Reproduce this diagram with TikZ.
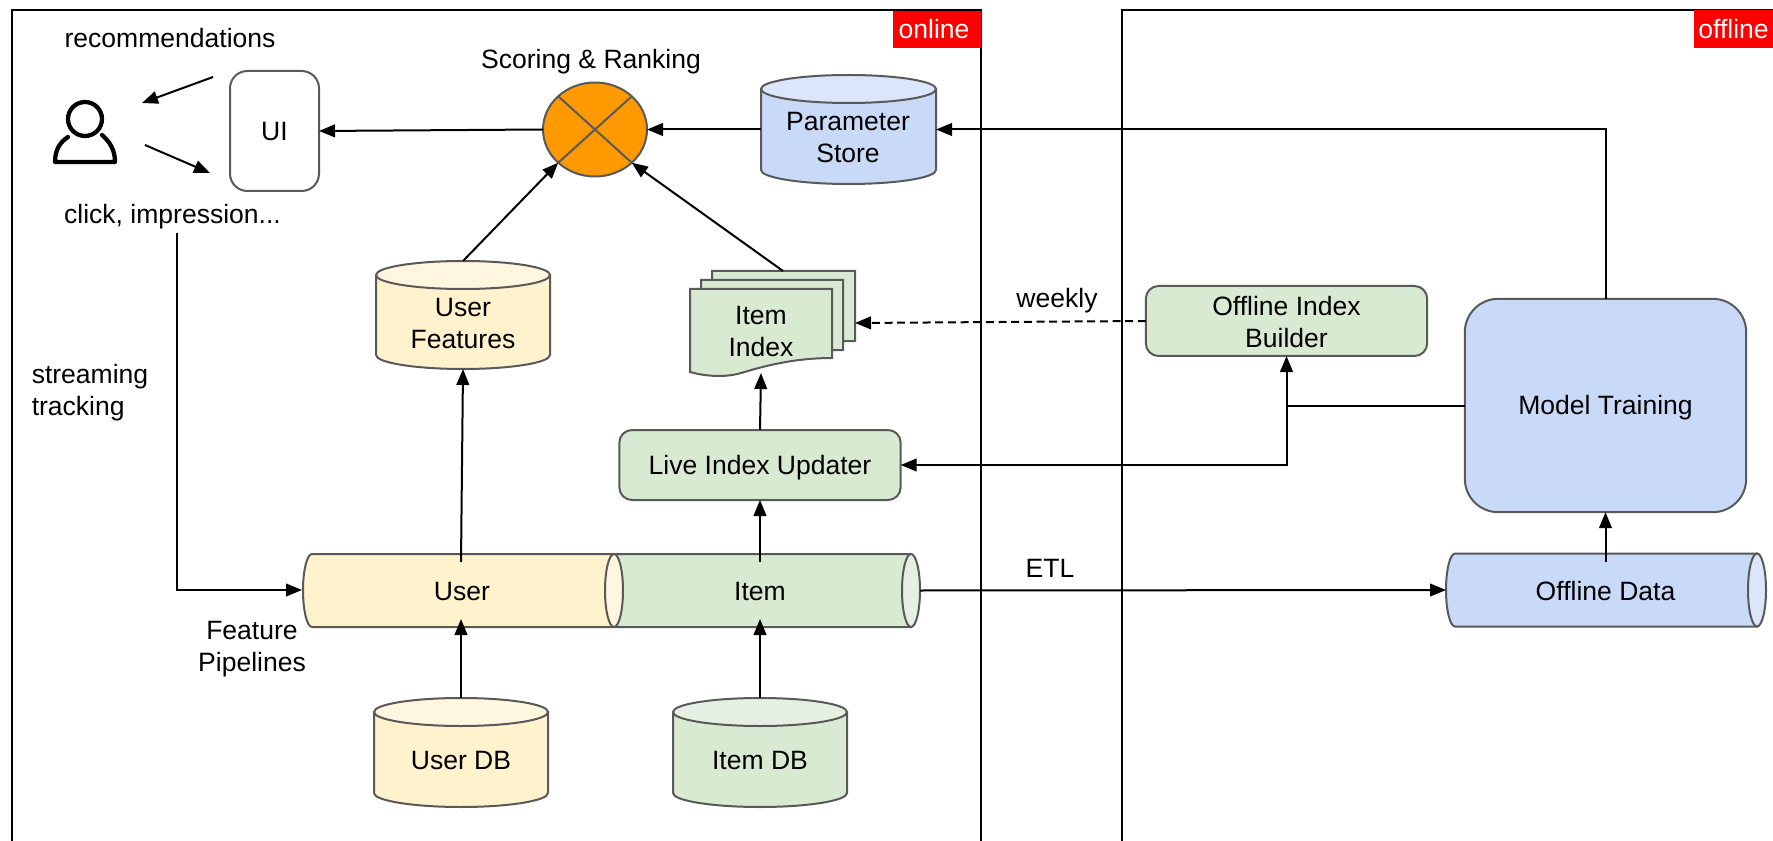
\documentclass[tikz,border=0pt]{standalone}
\usepackage{fontspec}
\setmainfont{Liberation Sans}
\usetikzlibrary{arrows.meta,calc,shapes.geometric}
\definecolor{edgegray}{HTML}{595959}
\definecolor{yel}{HTML}{FFF2CC}
\definecolor{yeltop}{HTML}{FFF6E0}
\definecolor{grn}{HTML}{D9EAD3}
\definecolor{grntop}{HTML}{E6F0E2}
\definecolor{blu}{HTML}{C9DAF8}
\definecolor{blutop}{HTML}{DCE6FA}
\definecolor{org}{HTML}{FF9900}
\tikzset{
  lbl/.style={font=\fontsize{19.9}{24}\selectfont,align=center,inner sep=0pt,outer sep=0pt,text=black},
  shapeline/.style={draw=edgegray,line width=1.5pt},
  box/.style={shapeline,rounded corners=#1,inner sep=0pt,outer sep=0pt},
  conn/.style={draw=black,line width=1.5pt,-{Triangle[length=12pt,width=9.5pt]}},
  plain/.style={draw=black,line width=1.5pt},
  framel/.style={draw=black,line width=1.5pt},
  tag/.style={fill=red,text=white,inner sep=0pt,outer sep=0pt,font=\fontsize{19.9}{24}\selectfont},
  ghost/.style={inner sep=0pt,outer sep=0pt},
}
% name, x1, x2, ytop, ybot, body, top, ry
\newcommand{\dbcyl}[8]{%
  \pgfmathsetmacro{\cxm}{(#2+#3)/2}
  \pgfmathsetmacro{\rxm}{(#3-#2)/2}
  \pgfmathsetmacro{\kxa}{\cxm-0.55*\rxm}
  \pgfmathsetmacro{\kxb}{\cxm+0.55*\rxm}
  \pgfmathsetmacro{\yta}{#4+#8}
  \pgfmathsetmacro{\ybo}{#5-#8}
  \pgfmathsetmacro{\ybk}{#5-0.45*#8}
  \path[shapeline,fill=#6] (#2,\yta) -- (#2,\ybo) .. controls (#2,\ybk) and (\kxa,#5) .. (\cxm,#5)
     .. controls (\kxb,#5) and (#3,\ybk) .. (#3,\ybo) -- (#3,\yta) -- cycle;
  \path[shapeline,fill=#7] (\cxm,\yta) ellipse [x radius=\rxm,y radius=#8];
  \node[ghost,minimum width={(#3-#2)*0.75pt},minimum height={(#5-#4)*0.75pt}] (#1) at (\cxm,{(#4+#5)/2}) {};
}
% name, xleft, xrightcentre, ytop, ybot, body, end, rx
\newcommand{\pipe}[8]{%
  \pgfmathsetmacro{\cym}{(#4+#5)/2}
  \pgfmathsetmacro{\rym}{(#5-#4)/2}
  \pgfmathsetmacro{\xla}{#2+#8}
  \pgfmathsetmacro{\kya}{\cym-0.55*\rym}
  \pgfmathsetmacro{\kyb}{\cym+0.55*\rym}
  \pgfmathsetmacro{\xlk}{#2+0.45*#8}
  \path[shapeline,fill=#6] (\xla,#4) -- (#3,#4) -- (#3,#5) -- (\xla,#5)
     .. controls (\xlk,#5) and (#2,\kyb) .. (#2,\cym) .. controls (#2,\kya) and (\xlk,#4) .. (\xla,#4) -- cycle;
  \path[shapeline,fill=#7] (#3,\cym) ellipse [x radius=#8,y radius=\rym];
  \node[ghost,minimum width={(#3+#8-#2)*0.75pt},minimum height={(#5-#4)*0.75pt}] (#1) at ({(#2+#3+#8)/2},\cym) {};
}
% x1,x2,ytop,yrightbottom
\newcommand{\docsheet}[4]{%
  \pgfmathsetmacro{\sheetw}{#2-#1}
  \path[shapeline,fill=grn] (#1,#3) -- (#2,#3) -- (#2,#4)
     .. controls ({#1+0.72*\sheetw},{#4+0}) and ({#1+0.5*\sheetw},{#4+9}) .. ({#1+0.36*\sheetw},{#4+15})
     .. controls ({#1+0.24*\sheetw},{#4+20}) and ({#1+0.1*\sheetw},{#4+18}) .. (#1,{#4+14}) -- cycle;
}
\begin{document}
\begin{tikzpicture}[x=0.75pt,y=-0.75pt]
\useasboundingbox (0,0) rectangle (1773,841);
% frames
\draw[framel] (12,841) -- (12,10) -- (981,10) -- (981,841);
\draw[framel] (1773,10) -- (1122,10) -- (1122,841);
\node[tag,minimum width=66pt,minimum height=28pt] (onlinetag) at (937,29.5) {\hspace*{-4.5pt}online};
\node[tag,minimum width=59pt,minimum height=29pt] (offlinetag) at (1733.5,29) {offline};

% user icon
\draw[black,line width=3.2pt] (85,119) ellipse [x radius=17,y radius=17];
\draw[black,line width=3.2pt,line join=round,line cap=round] (68,137) .. controls (60,142) and (55,150) .. (55,162) -- (115,162) .. controls (115,150) and (110,142) .. (102,135);

% boxes
\node[box=13pt,fill=white,minimum width=66.75pt,minimum height=90pt] (ui) at (274.5,131) {};
\node[lbl] (uilabel) at (274.5,132) {UI};
\node[lbl] (recs) at (170,38) {recommendations};
\node[lbl] (clicks) at (172.5,217) {click, impression...};
\node[lbl,align=left] (streaming) at (90,393) {streaming\\tracking};
\node[lbl] (pipelines) at (252,649) {Feature\\Pipelines};
\coordinate (recsa) at (213,77);
\coordinate (recsb) at (142,103);
\coordinate (clicka) at (145,145);
\coordinate (clickb) at (210,173);
\coordinate (trackstart) at (177,233);

% scoring
\node[shapeline,fill=org,ellipse,minimum width=78pt,minimum height=70.5pt,inner sep=0pt,outer sep=0pt] (score) at (595,129.5) {};
\draw[edgegray,line width=1.5pt] (score.north west) -- (score.south east);
\draw[edgegray,line width=1.5pt] (score.north east) -- (score.south west);
\node[lbl] (scorelabel) at (591,62) {Scoring \& Ranking};

% cylinders
\dbcyl{param}{761}{936}{75}{184}{blu}{blutop}{14}
\node[lbl] (paramlabel) at (848,137.5) {Parameter\\Store};
\dbcyl{userfeat}{376}{550}{261}{369}{yel}{yeltop}{14}
\node[lbl] (userfeatlabel) at (463,324) {User\\Features};
\dbcyl{userdb}{374}{548}{698}{807}{yel}{yeltop}{14}
\node[lbl] (userdblabel) at (461,760) {User DB};
\dbcyl{itemdb}{673}{847}{698}{807}{grn}{grntop}{14}
\node[lbl] (itemdblabel) at (760,760) {Item DB};

% item index sheets
\docsheet{712}{855}{271}{341}
\docsheet{701}{843}{280}{350}
\docsheet{690}{832}{289}{358}
\node[lbl] (indexlabel) at (761,331.5) {Item\\Index};
\coordinate (indextop) at (783,271);
\coordinate (indexright) at (855,323);
\coordinate (indexbottom) at (761,373);

% process boxes
\node[box=9.5pt,fill=grn,minimum width=211pt,minimum height=52.5pt] (live) at (760,465) {};
\node[lbl] (livelabel) at (760,468) {Live Index Updater};
\node[box=9.5pt,fill=grn,minimum width=211pt,minimum height=52.5pt] (builder) at (1286.5,321) {};
\node[lbl] (builderlabel) at (1286.5,322.5) {Offline Index\\Builder};
\node[box=25pt,fill=blu,minimum width=211pt,minimum height=160pt] (model) at (1605.5,405.5) {};
\node[lbl] (modellabel) at (1605.5,408) {Model Training};

% pipes
\pipe{itempipe}{606}{911}{554}{627}{grn}{grntop}{9}
\pipe{userpipe}{303}{614}{554}{627}{yel}{yeltop}{9}
\pipe{offpipe}{1446}{1757}{553.5}{626.5}{blu}{blutop}{9}
\node[lbl] (userlabel) at (462,591) {User};
\node[lbl] (itemlabel) at (760,591) {Item};
\node[lbl] (offlabel) at (1605.5,591) {Offline Data};
\coordinate (userout) at (461,562);
\coordinate (userin) at (461,619);
\coordinate (itemout) at (760,562);
\coordinate (itemin) at (760,619);
\coordinate (offout) at (1605.5,562);
\coordinate (trackend) at (302,590);

% connectors
\draw[conn] (recsa) -- (recsb);
\draw[conn] (clicka) -- (clickb);
\draw[conn] (score.west) -- (ui.east);
\draw[conn] (param.west) -- (score.east);
\draw[conn] (userfeat.north) -- (score.south west);
\draw[conn] (indextop) -- (score.south east);
\draw[conn] (model.north) |- (param.east);
\draw[conn] (userout) -- (userfeat.south);
\draw[conn] (live.north) -- (indexbottom);
\draw[conn] (itemout) -- (live.south);
\draw[conn] (userdb.north) -- (userin);
\draw[conn] (itemdb.north) -- (itemin);
\draw[conn] (offout) -- (model.south);
\draw[conn] (trackstart) |- (trackend);
\draw[conn] (itempipe.east) -- (offpipe.west);
\node[lbl] (etllabel) at (1050,568) {ETL};
\draw[conn,dash pattern=on 6pt off 3.5pt] (builder.west) -- (indexright);
\node[lbl] (weeklylabel) at (1057,301) {weekly};
\coordinate (junction) at (builder.south |- model.west);
\draw[conn] (junction) -- (builder.south);
\draw[plain] (model.west) -- (junction);
\draw[conn] (junction) |- (live.east);
\end{tikzpicture}
\end{document}
